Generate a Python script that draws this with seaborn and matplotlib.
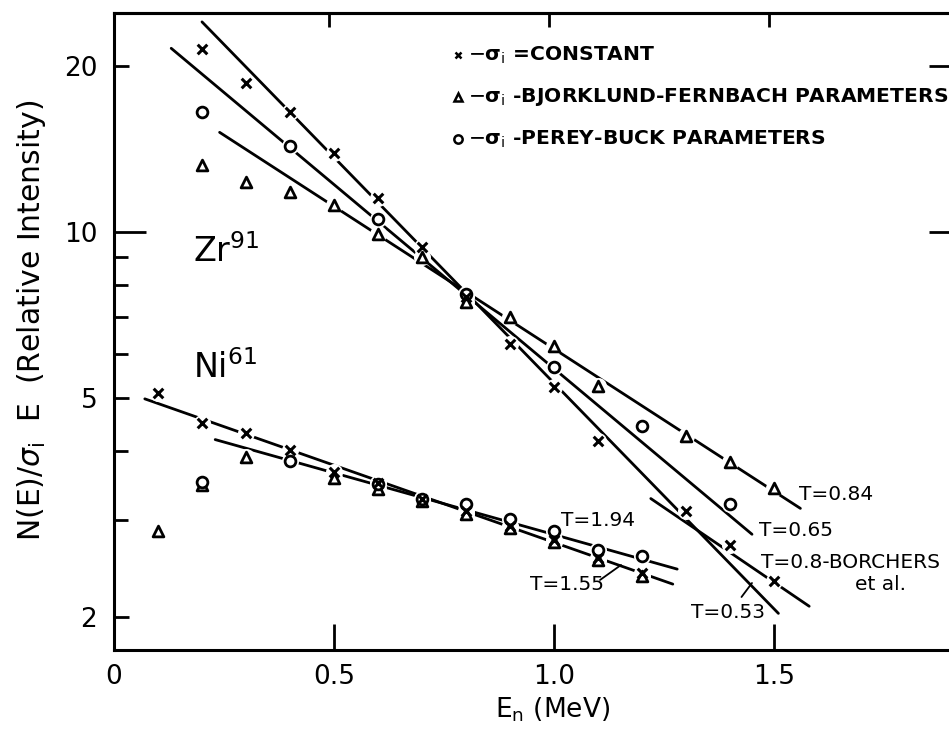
import numpy as np
import pandas as pd
import matplotlib
matplotlib.use("Agg")
import matplotlib.pyplot as plt
from matplotlib.lines import Line2D
import seaborn as sns

# ---- Zr-91 spectra (neutron energy in MeV, relative intensity) ----
zr_E_const = [0.2, 0.3, 0.4, 0.5, 0.6, 0.7, 0.8, 0.9, 1.0, 1.1, 1.3, 1.4, 1.5]
zr_const = [21.5, 18.6, 16.5, 13.9, 11.5, 9.4, 7.6, 6.25, 5.22, 4.18, 3.12, 2.70, 2.32]
zr_E_bf = [0.2, 0.3, 0.4, 0.5, 0.6, 0.7, 0.8, 0.9, 1.0, 1.1, 1.3, 1.4, 1.5]
zr_bf = [13.2, 12.3, 11.8, 11.2, 9.9, 9.0, 7.45, 7.0, 6.2, 5.25, 4.26, 3.82, 3.43]
zr_E_pb = [0.2, 0.4, 0.6, 0.8, 1.0, 1.2, 1.4]
zr_pb = [16.5, 14.3, 10.55, 7.7, 5.69, 4.45, 3.20]

# ---- Ni-61 spectra ----
ni_E_const = [0.1, 0.2, 0.3, 0.4, 0.5, 0.6, 0.7, 0.8, 0.9, 1.0, 1.1, 1.2]
ni_const = [5.1, 4.5, 4.32, 4.02, 3.67, 3.5, 3.27, 3.12, 2.93, 2.76, 2.56, 2.40]
ni_E_bf = [0.1, 0.2, 0.3, 0.5, 0.6, 0.7, 0.8, 0.9, 1.0, 1.1, 1.2]
ni_bf = [2.87, 3.47, 3.91, 3.57, 3.41, 3.25, 3.08, 2.90, 2.74, 2.54, 2.37]
ni_E_pb = [0.2, 0.4, 0.6, 0.7, 0.8, 0.9, 1.0, 1.1, 1.2]
ni_pb = [3.52, 3.83, 3.48, 3.28, 3.21, 3.01, 2.86, 2.65, 2.58]

# ---- Maxwellian fits N ~ exp(-E/T): temperature, energy span, reference point ----
fit_T = [0.53, 0.65, 0.84, 0.80, 1.94, 1.55]
fit_E_lo = [0.20, 0.13, 0.24, 1.22, 0.23, 0.07]
fit_E_hi = [1.51, 1.45, 1.56, 1.58, 1.28, 1.27]
fit_E_ref = [0.80, 0.80, 0.80, 1.22, 0.756, 0.667]
fit_ref = [7.75, 7.68, 7.78, 3.28, 3.20, 3.385]

x_ticks = [0, 0.5, 1.0, 1.5]
x_ticklabels = ["0", "0.5", "1.0", "1.5"]
y_major = [2, 5, 10, 20]
y_minor = [3, 4, 6, 7, 8, 9]

sns.set_style("ticks")
plt.rcParams["font.family"] = ["DejaVu Sans"]
plt.rcParams["mathtext.fontset"] = "dejavusans"
for key in ("text.color", "axes.labelcolor", "xtick.color", "ytick.color", "axes.edgecolor"):
    plt.rcParams[key] = "black"

W, H = 949, 735
fig = plt.figure(figsize=(W / 100, H / 100), dpi=100)
ax_left, ax_right, ax_top, ax_bot = 114, 960, 13, 650
ax = fig.add_axes([ax_left / W, 1 - ax_bot / H, (ax_right - ax_left) / W, (ax_bot - ax_top) / H])
ax.set_yscale("log")
ax.set_xlim(0, (ax_right - ax_left) / 440)
ax.set_ylim(1.742, 24.95)

# fitted lines
for T, lo, hi, e0, a0 in zip(fit_T, fit_E_lo, fit_E_hi, fit_E_ref, fit_ref):
    xs = np.array([lo, hi])
    ys = a0 * np.exp(-(xs - e0) / T)
    sns.lineplot(x=xs, y=ys, ax=ax, color="black", lw=2.0, estimator=None, sort=False, zorder=2)

# white halos open small gaps in the lines around each point
all_E = zr_E_const + zr_E_bf + zr_E_pb + ni_E_const + ni_E_bf + ni_E_pb
all_v = zr_const + zr_bf + zr_pb + ni_const + ni_bf + ni_pb
sns.scatterplot(x=all_E, y=all_v, ax=ax, marker="o", s=150, color="white", linewidth=0, zorder=3)

for E, v in ((zr_E_const, zr_const), (ni_E_const, ni_const)):
    sns.scatterplot(x=E, y=v, ax=ax, marker="x", s=48, color="black", linewidth=2.2, zorder=5)
for E, v in ((zr_E_bf, zr_bf), (ni_E_bf, ni_bf)):
    sns.scatterplot(x=E, y=v, ax=ax, marker="^", s=60, color="white", edgecolor="black", linewidth=2.0, zorder=4)
for E, v in ((zr_E_pb, zr_pb), (ni_E_pb, ni_pb)):
    sns.scatterplot(x=E, y=v, ax=ax, marker="o", s=60, color="white", edgecolor="black", linewidth=2.0, zorder=4)

# axes frame and ticks
for sp in ax.spines.values():
    sp.set_linewidth(2.2)
    sp.set_color("black")
ax.set_xticks(x_ticks)
ax.set_xticklabels(x_ticklabels)
ax.set_yticks(y_major)
ax.set_yticklabels([str(v) for v in y_major])
ax.set_yticks(y_minor, minor=True)
ax.set_yticklabels([], minor=True)
ax.tick_params(axis="x", which="both", direction="in", length=19, width=2, labelsize=19, pad=10, top=False)
ax.tick_params(axis="y", which="major", direction="in", length=11, width=2, labelsize=19, pad=12, right=False)
ax.tick_params(axis="y", which="minor", direction="in", length=10, width=2, right=False)
for t in ax.yaxis.get_major_ticks():
    if abs(t.get_loc() - 10) < 1e-6:
        t.tick1line.set_markersize(23)

sec_x = ax.secondary_xaxis("top")
sec_x.set_xticks([0.489, 0.989, 1.489])
sec_x.tick_params(direction="in", length=10, width=2, labeltop=False)
sec_x.spines["top"].set_linewidth(2.2)
sec_y = ax.secondary_yaxis("right")
sec_y.set_yticks([10, 20])
sec_y.set_yticks([], minor=True)
sec_y.tick_params(which="both", direction="in", length=22, width=2, labelright=False)

ax.set_xlabel("")
ax.set_ylabel("")


def fxy(x, y):
    return x / W, 1 - y / H


fig.text(*fxy(553, 718), r"E$_{\rm n}$ (MeV)", fontsize=19, ha="center", va="baseline")
fig.text(*fxy(32, 320), r"N(E)/$\sigma_{\rm i}$  E  (Relative Intensity)", fontsize=21.5,
         rotation=90, ha="center", va="center")

fig.text(*fxy(193, 262), r"Zr$^{91}$", fontsize=24, ha="left", va="baseline")
fig.text(*fxy(193, 378), r"Ni$^{61}$", fontsize=24, ha="left", va="baseline")

# key
key_rows = [(55, "x", r"$-\mathbf{\sigma}_{\rm i}$ =CONSTANT"),
            (97, "^", r"$-\mathbf{\sigma}_{\rm i}$ -BJORKLUND-FERNBACH PARAMETERS"),
            (139, "o", r"$-\mathbf{\sigma}_{\rm i}$ -PEREY-BUCK PARAMETERS")]
for yk, mk, label in key_rows:
    mx, my = fxy(458, yk)
    fig.add_artist(Line2D([mx], [my], marker=mk, markersize=6 if mk != "x" else 5,
                          markerfacecolor="white", markeredgecolor="black", markeredgewidth=1.8,
                          linestyle="none", transform=fig.transFigure))
    fig.text(*fxy(468, yk), label, fontsize=14.6, fontweight="bold", ha="left", va="center")

# temperature labels
t_labels = [(799, 495, "T=0.84"), (759, 531, "T=0.65"), (761, 563, "T=0.8-BORCHERS"),
            (855, 585, "et al."), (691, 612, "T=0.53"), (561, 520, "T=1.94"), (530, 585, "T=1.55")]
for xl, yl, s in t_labels:
    fig.text(*fxy(xl, yl), s, fontsize=14.5, ha="left", va="center")

for (x0, y0), (x1, y1) in [((741.5, 597), (752, 583)), ((600, 580), (621, 565))]:
    a, b = fxy(x0, y0)
    c, d = fxy(x1, y1)
    fig.add_artist(Line2D([a, c], [b, d], color="black", lw=1.3, transform=fig.transFigure))

fig.savefig("out.png", dpi=100)
